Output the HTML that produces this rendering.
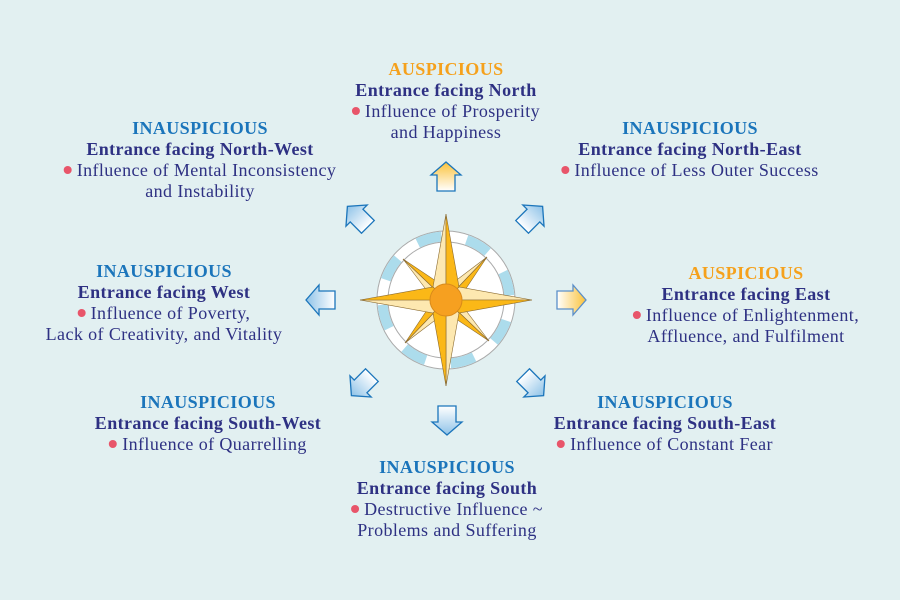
<!DOCTYPE html>
<html><head><meta charset="utf-8"><style>
body{margin:0;width:900px;height:600px;background:#e2f0f1;overflow:hidden;position:relative;font-family:"Liberation Serif",serif;}
.b{position:absolute;text-align:center;font-size:18px;line-height:21px;color:#2e3183;letter-spacing:0.4px;white-space:nowrap;transform:translateX(-50%);}
.h{color:#1b75bb;font-weight:bold;}
.o{color:#f5a11c;font-weight:bold;}
.e{font-weight:bold;}
.d{display:inline-block;width:8px;height:8px;border-radius:50%;background:#e8556a;vertical-align:middle;margin-right:5px;position:relative;top:-2px;}
svg{position:absolute;left:0;top:0;}
</style></head><body>
<svg width="900" height="600">
<defs>
<linearGradient id="gy" x1="0" x2="1" y1="0" y2="0"><stop offset="0" stop-color="#fff"/><stop offset="1" stop-color="#fbc23a"/></linearGradient>
<linearGradient id="gb" x1="0" x2="1" y1="0" y2="0"><stop offset="0" stop-color="#fff"/><stop offset="1" stop-color="#8fc3e8"/></linearGradient>
<polygon id="ar" points="-14,-9 2,-9 2,-15 15,0 2,15 2,9 -14,9"/>
</defs>
<g stroke="#1b75bb" stroke-width="1.3">
<use href="#ar" fill="url(#gy)" transform="translate(446,177) rotate(-90)"/>
<use href="#ar" fill="url(#gy)" stroke="#5b8fc9" transform="translate(571,300)"/>
<use href="#ar" fill="url(#gb)" transform="translate(532,217) rotate(-45)"/>
<use href="#ar" fill="url(#gb)" transform="translate(533,385) rotate(45)"/>
<use href="#ar" fill="url(#gb)" transform="translate(447,420) rotate(90)"/>
<use href="#ar" fill="url(#gb)" transform="translate(362,385) rotate(135)"/>
<use href="#ar" fill="url(#gb)" transform="translate(321,300) rotate(180)"/>
<use href="#ar" fill="url(#gb)" transform="translate(358,217) rotate(-135)"/>
</g>
<g transform="translate(446,300)">
<circle r="69" fill="#fff" stroke="#aaa" stroke-width="1"/>
<circle r="63.5" fill="none" stroke="#acdcec" stroke-width="10" pathLength="360" stroke-dasharray="22 23" transform="rotate(-116)"/>
<circle r="58" fill="#fff" stroke="#aaa" stroke-width="1"/>
<g stroke="#8a6a30" stroke-width="0.6">
<g id="dg"><polygon points="0,0 -43,-41 -15,-4" fill="#fde8b0"/><polygon points="0,0 -43,-41 -4,-15" fill="#fbb817"/></g>
<use href="#dg" transform="rotate(90)"/><use href="#dg" transform="rotate(180)"/><use href="#dg" transform="rotate(270)"/>
<g id="mg"><polygon points="0,0 0,-86 -13,-13" fill="#fde8b0"/><polygon points="0,0 0,-86 13,-13" fill="#fbb817"/></g>
<use href="#mg" transform="rotate(90)"/><use href="#mg" transform="rotate(180)"/><use href="#mg" transform="rotate(270)"/>
</g>
<circle r="16" fill="#f6a020" stroke="#d98a1a" stroke-width="1"/>
</g>
</svg>

<div class="b" style="left:446px;top:59px"><span class="o">AUSPICIOUS</span><br><span class="e">Entrance facing North</span><br><span class="d"></span>Influence of Prosperity<br>and Happiness</div>
<div class="b" style="left:200px;top:118px"><span class="h">INAUSPICIOUS</span><br><span class="e">Entrance facing North-West</span><br><span class="d"></span>Influence of Mental Inconsistency<br>and Instability</div>
<div class="b" style="left:690px;top:118px"><span class="h">INAUSPICIOUS</span><br><span class="e">Entrance facing North-East</span><br><span class="d"></span>Influence of Less Outer Success</div>
<div class="b" style="left:164px;top:261px"><span class="h">INAUSPICIOUS</span><br><span class="e">Entrance facing West</span><br><span class="d"></span>Influence of Poverty,<br>Lack of Creativity, and Vitality</div>
<div class="b" style="left:746px;top:263px"><span class="o">AUSPICIOUS</span><br><span class="e">Entrance facing East</span><br><span class="d"></span>Influence of Enlightenment,<br>Affluence, and Fulfilment</div>
<div class="b" style="left:208px;top:392px"><span class="h">INAUSPICIOUS</span><br><span class="e">Entrance facing South-West</span><br><span class="d"></span>Influence of Quarrelling</div>
<div class="b" style="left:665px;top:392px"><span class="h">INAUSPICIOUS</span><br><span class="e">Entrance facing South-East</span><br><span class="d"></span>Influence of Constant Fear</div>
<div class="b" style="left:447px;top:457px"><span class="h">INAUSPICIOUS</span><br><span class="e">Entrance facing South</span><br><span class="d"></span>Destructive Influence ~<br>Problems and Suffering</div>
</body></html>
